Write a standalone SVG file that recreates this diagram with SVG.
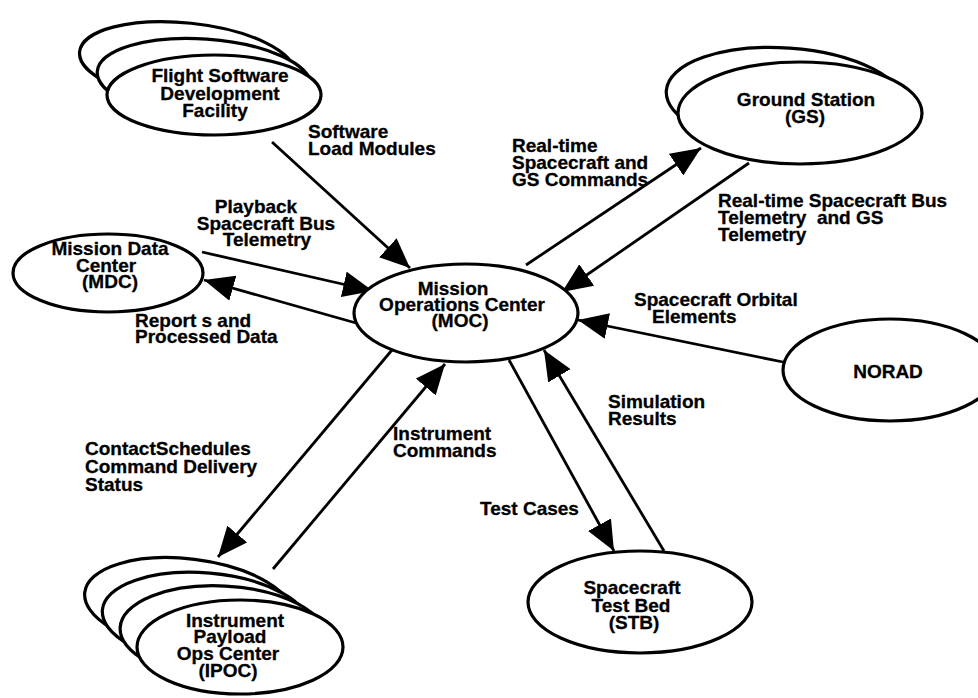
<svg xmlns="http://www.w3.org/2000/svg" width="978" height="698" viewBox="0 0 978 698">
<defs>
<marker id="ah" markerUnits="userSpaceOnUse" markerWidth="31" markerHeight="26" viewBox="0 0 31 26" refX="30" refY="13" orient="auto">
<path d="M0,0 L30,13 L0,26 z" fill="#000"/>
</marker>
<style>
.n{fill:#fff;stroke:#000;stroke-width:3.2}
.c{stroke:#000;stroke-width:2.8;fill:none;marker-end:url(#ah)}
text{font-family:"Liberation Sans",Arial,Helvetica,sans-serif;font-weight:bold;font-size:19px;fill:#000;stroke:#000;stroke-width:0.3}
.m{text-anchor:middle}
</style>
</defs>
<rect width="978" height="698" fill="#fff"/>

<g id="connectors">
<line class="c" x1="272" y1="142" x2="410" y2="268"/>
<line class="c" x1="202" y1="252" x2="373" y2="291"/>
<line class="c" x1="356" y1="323" x2="204" y2="280"/>
<line class="c" x1="526" y1="265" x2="701" y2="148"/>
<line class="c" x1="749" y1="163" x2="562" y2="292"/>
<line class="c" x1="783" y1="362" x2="578" y2="320"/>
<line class="c" x1="509" y1="360" x2="614" y2="551"/>
<line class="c" x1="664" y1="551" x2="544" y2="350"/>
<line class="c" x1="392" y1="350" x2="218" y2="557"/>
<line class="c" x1="273" y1="569" x2="445" y2="364"/>
</g>

<g id="fsdf">
<ellipse class="n" cx="187" cy="63" rx="108" ry="40" transform="rotate(6 187 63)"/>
<ellipse class="n" cx="204" cy="79" rx="107" ry="40" transform="rotate(4 204 79)"/>
<ellipse class="n" cx="214" cy="95" rx="107" ry="40"/>
<text class="m" x="220" y="82">Flight Software</text>
<text class="m" x="220" y="100">Development</text>
<text class="m" x="215" y="117">Facility</text>
</g>

<g id="gs">
<ellipse class="n" cx="786" cy="99" rx="120" ry="51" transform="rotate(4 786 99)"/>
<ellipse class="n" cx="800" cy="113" rx="122" ry="51"/>
<text class="m" x="806" y="106">Ground Station</text>
<text class="m" x="805" y="123">(GS)</text>
</g>

<g id="mdc">
<ellipse class="n" cx="108" cy="273" rx="95" ry="39"/>
<text class="m" x="110" y="255">Mission Data</text>
<text class="m" x="106" y="272">Center</text>
<text class="m" x="110" y="288">(MDC)</text>
</g>

<g id="moc">
<ellipse class="n" cx="466" cy="313" rx="112" ry="49"/>
<text class="m" x="453" y="295">Mission</text>
<text class="m" x="462" y="311">Operations Center</text>
<text class="m" x="460" y="327">(MOC)</text>
</g>

<g id="norad">
<ellipse class="n" cx="890" cy="370" rx="107" ry="51"/>
<text class="m" x="888" y="378">NORAD</text>
</g>

<g id="stb">
<ellipse class="n" cx="640" cy="602" rx="112" ry="51"/>
<text class="m" x="632" y="594">Spacecraft</text>
<text class="m" x="631" y="612">Test Bed</text>
<text class="m" x="634" y="629">(STB)</text>
</g>

<g id="ipoc">
<ellipse class="n" cx="189" cy="605" rx="105" ry="46" transform="rotate(7 189 605)"/>
<ellipse class="n" cx="206" cy="619" rx="104" ry="46" transform="rotate(5 206 619)"/>
<ellipse class="n" cx="223" cy="633" rx="103" ry="47" transform="rotate(3 223 633)"/>
<ellipse class="n" cx="240" cy="647" rx="103" ry="47"/>
<text class="m" x="235" y="627">Instrument</text>
<text class="m" x="230" y="643">Payload</text>
<text class="m" x="228" y="660">Ops Center</text>
<text class="m" x="228" y="677">(IPOC)</text>
</g>

<g id="labels">
<text x="308" y="138">Software</text>
<text x="308" y="155">Load Modules</text>
<text class="m" x="256" y="213">Playback</text>
<text class="m" x="266" y="230">Spacecraft Bus</text>
<text class="m" x="267" y="246">Telemetry</text>
<text x="135" y="327">Report s and</text>
<text x="135" y="343">Processed Data</text>
<text x="512" y="152">Real-time</text>
<text x="512" y="169">Spacecraft and</text>
<text x="512" y="186">GS Commands</text>
<text x="718" y="207">Real-time Spacecraft Bus</text>
<text x="718" y="224" xml:space="preserve">Telemetry  and GS</text>
<text x="718" y="241">Telemetry</text>
<text x="634" y="306">Spacecraft Orbital</text>
<text x="652" y="323">Elements</text>
<text x="608" y="408">Simulation</text>
<text x="608" y="425">Results</text>
<text x="480" y="515">Test Cases</text>
<text x="85" y="455">ContactSchedules</text>
<text x="85" y="473">Command Delivery</text>
<text x="85" y="491">Status</text>
<text x="393" y="440">Instrument</text>
<text x="393" y="457">Commands</text>
</g>
</svg>
